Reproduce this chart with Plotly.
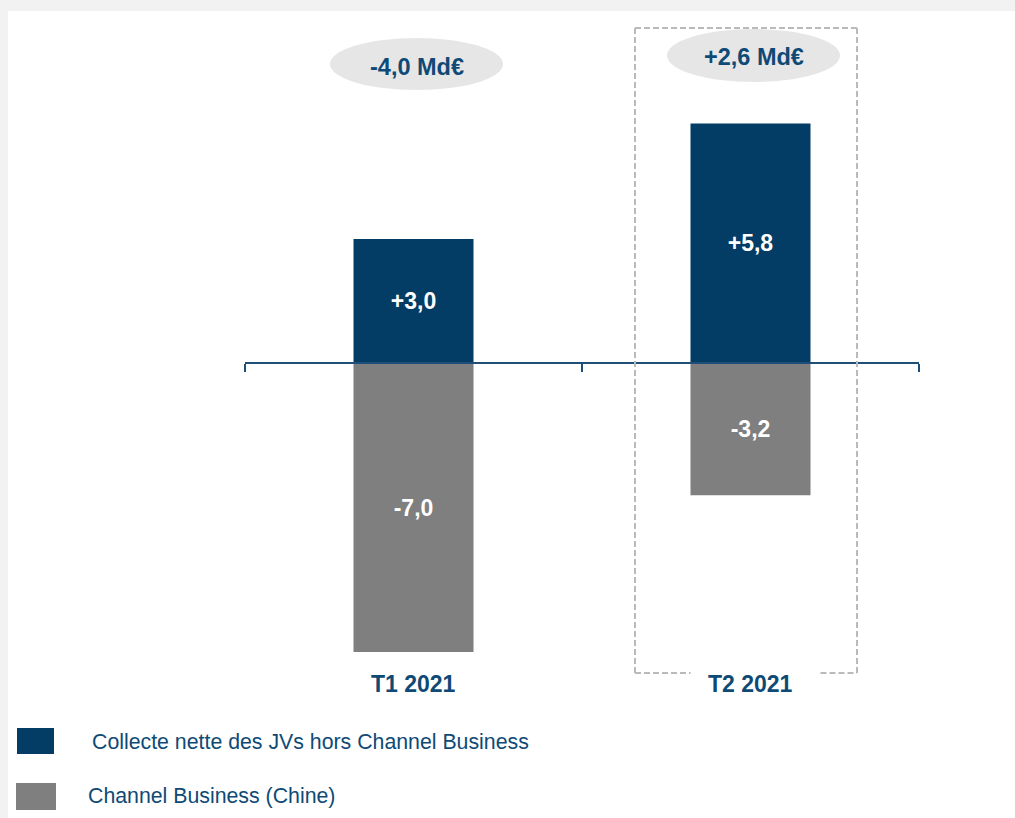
import plotly.graph_objects as go

# --- data -------------------------------------------------------------
categories = ["T1 2021", "T2 2021"]
series_names = ["Collecte nette des JVs hors Channel Business", "Channel Business (Chine)"]
jv_values = [3.0, 5.8]          # collecte nette hors Channel Business (Md€)
channel_values = [-7.0, -3.2]   # Channel Business (Chine) (Md€)
series_colors = ["#033c65", "#7f7f7f"]
highlight_index = 1             # quarter framed by the dashed box

# --- styling ----------------------------------------------------------
NAVY_TEXT = "#0e4a75"
AXIS_NAVY = "#1f4e79"
FONT = "Arial, Liberation Sans, sans-serif"

W, H = 1015, 818
PLOT_L, PLOT_R = 245, 919          # pixel extent of the plotting area
PLOT_T, PLOT_B = 11, 818
ZERO_PX = 363                      # pixel row of the zero line
PX_PER_UNIT = 41.3

y_max = (ZERO_PX - PLOT_T) / PX_PER_UNIT
y_min = -(PLOT_B - ZERO_PX) / PX_PER_UNIT
CAT_PX = (PLOT_R - PLOT_L) / len(categories)


def px_x(px):
    return (px - PLOT_L) / (PLOT_R - PLOT_L)


def px_y(py):
    return (PLOT_B - py) / (PLOT_B - PLOT_T)


def fr(v, unit=""):
    return f"{v:+.1f}".replace(".", ",") + unit


fig = go.Figure()
for name, vals, col in [(series_names[0], jv_values, series_colors[0]),
                        (series_names[1], channel_values, series_colors[1])]:
    fig.add_trace(go.Bar(
        x=categories, y=vals, name=name,
        marker=dict(color=col, line=dict(width=0)),
        text=[fr(v) for v in vals],
        textposition="inside", insidetextanchor="middle",
        textangle=0,
        textfont=dict(family=FONT, size=23, color="white", weight="bold"),
        hoverinfo="skip", showlegend=False,
    ))

shapes = []
annotations = []

# white panel behind the chart
shapes.append(dict(type="rect", xref="paper", yref="paper", layer="below",
                   x0=px_x(8), x1=px_x(W + 2), y0=px_y(H + 2), y1=px_y(11),
                   fillcolor="white", line=dict(width=0)))

# dashed frame around the highlighted quarter, open where its label sits
h = highlight_index
fl, frt = h - 115.5 / CAT_PX, h + 106.5 / CAT_PX
gl, gr = h - 60 / CAT_PX, h + 70 / CAT_PX
ft, fb = px_y(28), px_y(673)
dash_line = dict(color="#bababa", width=2, dash="6px,3px")
for x0, y0, x1, y1 in [(fl, fb, fl, ft), (fl, ft, frt, ft), (frt, ft, frt, fb),
                       (fl, fb, gl, fb), (gr, fb, frt, fb)]:
    shapes.append(dict(type="line", xref="x", yref="paper",
                       x0=x0, y0=y0, x1=x1, y1=y1, line=dash_line))

# total per quarter in a grey ellipse
totals = [a + b for a, b in zip(jv_values, channel_values)]
ellipse_rows = [(38, 90, 66.5), (29, 82, 57)]
rx = 86.5 / CAT_PX
for i, tot in enumerate(totals):
    top, bot, txt = ellipse_rows[i]
    cx = i + 3 / CAT_PX
    shapes.append(dict(type="circle", xref="x", yref="paper",
                       x0=cx - rx, x1=cx + rx, y0=px_y(bot), y1=px_y(top),
                       fillcolor="#e6e6e6", line=dict(width=0), layer="below"))
    annotations.append(dict(x=cx, y=px_y(txt), xref="x", yref="paper",
                            text=fr(tot, " Md€"), showarrow=False,
                            xanchor="center", yanchor="middle",
                            font=dict(family=FONT, size=23.5, color=NAVY_TEXT, weight="bold")))

# category labels under the bars
for cat in categories:
    annotations.append(dict(x=cat, y=px_y(684), xref="x", yref="paper",
                            text=cat, showarrow=False, xanchor="center", yanchor="middle",
                            font=dict(family=FONT, size=23, color=NAVY_TEXT, weight="bold")))

# legend: colour swatch + series name
legend_rows = [((17, 54, 728, 754), 90, 742), ((16, 56, 783, 810), 86, 796)]
for (box, tx, ty), name, col in zip(legend_rows, series_names, series_colors):
    x0, x1, y0, y1 = box
    shapes.append(dict(type="rect", xref="paper", yref="paper",
                       x0=px_x(x0), x1=px_x(x1), y0=px_y(y1), y1=px_y(y0),
                       fillcolor=col, line=dict(width=0)))
    annotations.append(dict(x=px_x(tx), y=px_y(ty), xref="paper", yref="paper",
                            text=name, showarrow=False, xanchor="left", yanchor="middle",
                            font=dict(family=FONT, size=21.3, color=NAVY_TEXT)))

fig.update_layout(
    width=W, height=H,
    margin=dict(l=PLOT_L, r=W - PLOT_R, t=PLOT_T, b=H - PLOT_B, pad=0),
    paper_bgcolor="#f2f2f2", plot_bgcolor="rgba(0,0,0,0)",
    barmode="relative", bargap=1 - 120 / CAT_PX,
    shapes=shapes, annotations=annotations,
    uniformtext=dict(mode=False),
    xaxis=dict(type="category", range=[-0.5, len(categories) - 0.5],
               anchor="free", position=(0 - y_min) / (y_max - y_min),
               showline=True, linecolor=AXIS_NAVY, linewidth=2,
               ticks="outside", tickson="boundaries", ticklen=8,
               tickwidth=2, tickcolor=AXIS_NAVY,
               showticklabels=False, showgrid=False, zeroline=False,
               fixedrange=True),
    yaxis=dict(range=[y_min, y_max], visible=False, showgrid=False,
               zeroline=False, fixedrange=True),
)

fig.write_html("out.html", config={"displayModeBar": False})
